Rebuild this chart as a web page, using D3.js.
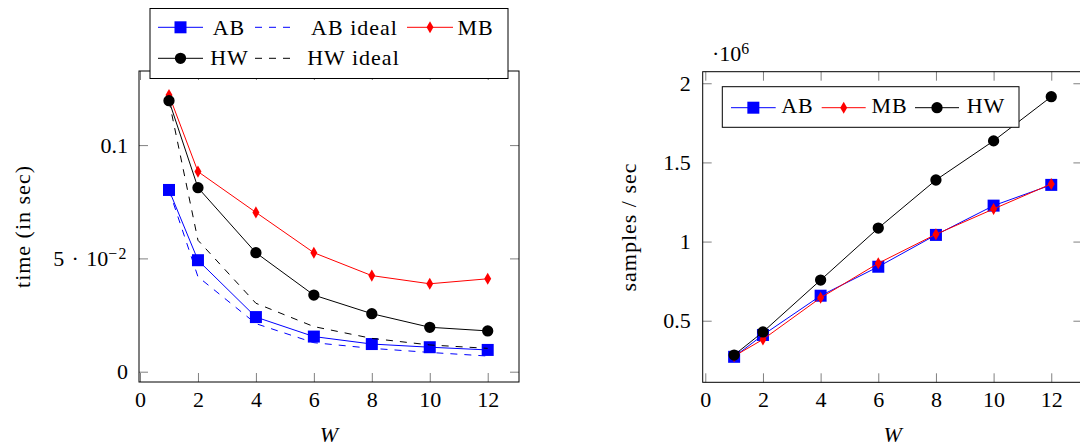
<!DOCTYPE html>
<html><head><meta charset="utf-8">
<script src="https://cdn.jsdelivr.net/npm/d3@7"></script>
<style>
html,body{margin:0;padding:0;background:#fff}
svg{display:block}
text{font-family:"Liberation Serif","DejaVu Serif",serif;fill:#000}
</style>
</head><body>
<svg id="c" width="1080" height="447"></svg>
<script>
// ---- data ----
const wValues = [1, 2, 4, 6, 8, 10, 12];
const timeAB      = [0.0802, 0.0492, 0.0241, 0.0155, 0.0122, 0.0108, 0.0096];
const timeABIdeal = [0.0802, 0.0419, 0.0212, 0.0128, 0.0103, 0.0085, 0.0069];
const timeMB      = [0.1221, 0.0883, 0.0703, 0.0525, 0.0424, 0.0388, 0.0410];
const timeHW      = [0.1196, 0.0812, 0.0525, 0.0338, 0.0256, 0.0196, 0.0180];
const timeHWIdeal = [0.1196, 0.0580, 0.0302, 0.0199, 0.0147, 0.0118, 0.0103];
const rateAB = [272000, 410000, 658000, 841000, 1042000, 1227000, 1358000];
const rateMB = [276000, 382000, 645000, 863000, 1046000, 1206000, 1364000];
const rateHW = [283000, 429000, 757000, 1085000, 1389000, 1636000, 1915000];
const xTickValues = [0, 2, 4, 6, 8, 10, 12];
const leftYTickValues = [0, 0.05, 0.1];
const leftYTickLabels = ["0", "5\u2004·\u200410", "0.1"];
const leftYTickSups   = ["", "\u22122", ""];
const rightYTickValues = [500000, 1000000, 1500000, 2000000];
const rightYTickLabels = ["0.5", "1", "1.5", "2"];
const rightYTickSups   = ["", "", "", ""];

const svg = d3.select("#c");
const FS = 22, TICK = 9, DASH = "7,7", LS = 1;

function markerPath(kind) {
  if (kind === "square") return d3.symbol(d3.symbolSquare, 144)();
  if (kind === "circle") return d3.symbol(d3.symbolCircle, 100)();
  return d3.symbol(d3.symbolDiamond, 42)();
}

function drawSeries(g, x, y, xs, ys, color, dashed, marker) {
  const line = d3.line().x((d, i) => x(xs[i])).y(d => y(d));
  g.append("path").datum(ys).attr("d", line).attr("fill", "none")
    .attr("stroke", color).attr("stroke-width", 1)
    .attr("stroke-dasharray", dashed ? DASH : null);
  if (marker) {
    g.selectAll(null).data(ys).enter().append("path")
      .attr("d", markerPath(marker))
      .attr("transform", (d, i) => `translate(${x(xs[i])},${y(d)})`)
      .attr("fill", color).attr("stroke", "none");
  }
}

function drawFrame(g, x, y, yTicks, yLabels, ySups, yPad, xLabelText, yLabelText, yLabelX) {
  const [x0, x1] = x.range(), [y0, y1] = y.range();
  const bx = g.append("g").attr("transform", `translate(0,${y0})`)
    .call(d3.axisBottom(x).tickValues(xTickValues).tickSizeInner(-TICK).tickSizeOuter(0).tickPadding(9));
  const tx = g.append("g").attr("transform", `translate(0,${y1})`)
    .call(d3.axisTop(x).tickValues(xTickValues).tickSizeInner(-TICK).tickSizeOuter(0).tickFormat(""));
  const ly = g.append("g").attr("transform", `translate(${x0},0)`)
    .call(d3.axisLeft(y).tickValues(yTicks).tickSizeInner(-TICK).tickSizeOuter(0).tickPadding(yPad)
      .tickFormat((d, i) => yLabels[i]));
  const ry = g.append("g").attr("transform", `translate(${x1},0)`)
    .call(d3.axisRight(y).tickValues(yTicks).tickSizeInner(-TICK).tickSizeOuter(0).tickFormat(""));
  ly.selectAll(".tick text").each(function(d, i) {
    if (ySups[i]) d3.select(this).append("tspan").attr("dy", "-0.42em")
      .attr("font-size", "0.72em").attr("letter-spacing", 1.5).text(ySups[i]);
  });
  [bx, tx, ly, ry].forEach(a => {
    a.select(".domain").remove();
    a.selectAll(".tick line").attr("stroke", "#808080").attr("stroke-width", 1);
    a.selectAll(".tick text").attr("font-size", FS).attr("font-family", "Liberation Serif").attr("fill", "#000");
  });
  g.append("rect").attr("x", x0).attr("y", y1).attr("width", x1 - x0).attr("height", y0 - y1)
    .attr("fill", "none").attr("stroke", "#000").attr("stroke-width", 1);
  g.append("text").attr("x", (x0 + x1) / 2).attr("y", 442).attr("text-anchor", "middle")
    .attr("font-size", FS).attr("font-style", "italic").text(xLabelText);
  g.append("text").attr("transform", `translate(${yLabelX},${(y0 + y1) / 2}) rotate(-90)`)
    .attr("text-anchor", "middle").attr("font-size", FS).attr("letter-spacing", LS).text(yLabelText);
}

function legendRow(g, items, cy, baseY) {
  items.forEach(it => {
    g.append("line").attr("x1", it.l0).attr("x2", it.l1).attr("y1", cy).attr("y2", cy)
      .attr("stroke", it.color).attr("stroke-width", 1).attr("stroke-dasharray", it.dashed ? DASH : null);
    if (it.marker) g.append("path").attr("d", markerPath(it.marker))
      .attr("transform", `translate(${(it.l0 + it.l1) / 2},${cy})`).attr("fill", it.color);
    g.append("text").attr("x", it.tx).attr("y", baseY).attr("text-anchor", "middle")
      .attr("font-size", FS).attr("letter-spacing", LS).text(it.label);
  });
}

// ---- left chart ----
const xL = d3.scaleLinear().domain([-0.035, 13.08]).range([139, 519]);
const yL = d3.scaleLinear().domain([-0.00455, 0.1327]).range([382, 71]);
const gL = svg.append("g");
drawFrame(gL, xL, yL, leftYTickValues, leftYTickLabels, leftYTickSups, 11, "W", "time (in sec)", 30);
drawSeries(gL, xL, yL, wValues, timeAB, "#0000ff", false, "square");
drawSeries(gL, xL, yL, wValues, timeABIdeal, "#0000ff", true, null);
drawSeries(gL, xL, yL, wValues, timeMB, "#ff0000", false, "diamond");
drawSeries(gL, xL, yL, wValues, timeHW, "#000000", false, "circle");
drawSeries(gL, xL, yL, wValues, timeHWIdeal, "#000000", true, null);

const lgL = svg.append("g");
lgL.append("rect").attr("x", 150).attr("y", 8.5).attr("width", 358).attr("height", 70)
  .attr("fill", "#fff").attr("stroke", "#000").attr("stroke-width", 1);
legendRow(lgL, [
  {l0: 158, l1: 203, color: "#0000ff", marker: "square", tx: 229, label: "AB"},
  {l0: 255, l1: 297, color: "#0000ff", dashed: true, tx: 354.5, label: "AB ideal"},
  {l0: 407, l1: 453, color: "#ff0000", marker: "diamond", tx: 475.5, label: "MB"}
], 27.3, 34.5);
legendRow(lgL, [
  {l0: 158, l1: 203, color: "#000000", marker: "circle", tx: 229.5, label: "HW"},
  {l0: 255, l1: 297, color: "#000000", dashed: true, tx: 353.5, label: "HW ideal"}
], 58.3, 64.5);

// ---- right chart ----
const xR = d3.scaleLinear().domain([-0.09, 13.08]).range([702.7, 1082.4]);
const yR = d3.scaleLinear().domain([111000, 2073000]).range([382.3, 71.7]);
const gR = svg.append("g");
drawFrame(gR, xR, yR, rightYTickValues, rightYTickLabels, rightYTickSups, 12, "W", "samples / sec", 636);
const sc = gR.append("text").attr("x", 712).attr("y", 60.7).attr("font-size", FS).text("·10");
sc.append("tspan").attr("dy", "-0.42em").attr("font-size", "0.72em").text("6");
drawSeries(gR, xR, yR, wValues, rateAB, "#0000ff", false, "square");
drawSeries(gR, xR, yR, wValues, rateMB, "#ff0000", false, "diamond");
drawSeries(gR, xR, yR, wValues, rateHW, "#000000", false, "circle");

const lgR = svg.append("g");
lgR.append("rect").attr("x", 722.3).attr("y", 86.7).attr("width", 296.7).attr("height", 40.6)
  .attr("fill", "#fff").attr("stroke", "#000").attr("stroke-width", 1);
legendRow(lgR, [
  {l0: 731, l1: 775.7, color: "#0000ff", marker: "square", tx: 797.5, label: "AB"},
  {l0: 821.7, l1: 865.7, color: "#ff0000", marker: "diamond", tx: 889.5, label: "MB"},
  {l0: 915, l1: 959, color: "#000000", marker: "circle", tx: 986, label: "HW"}
], 107.7, 112.7);
</script>
</body></html>
